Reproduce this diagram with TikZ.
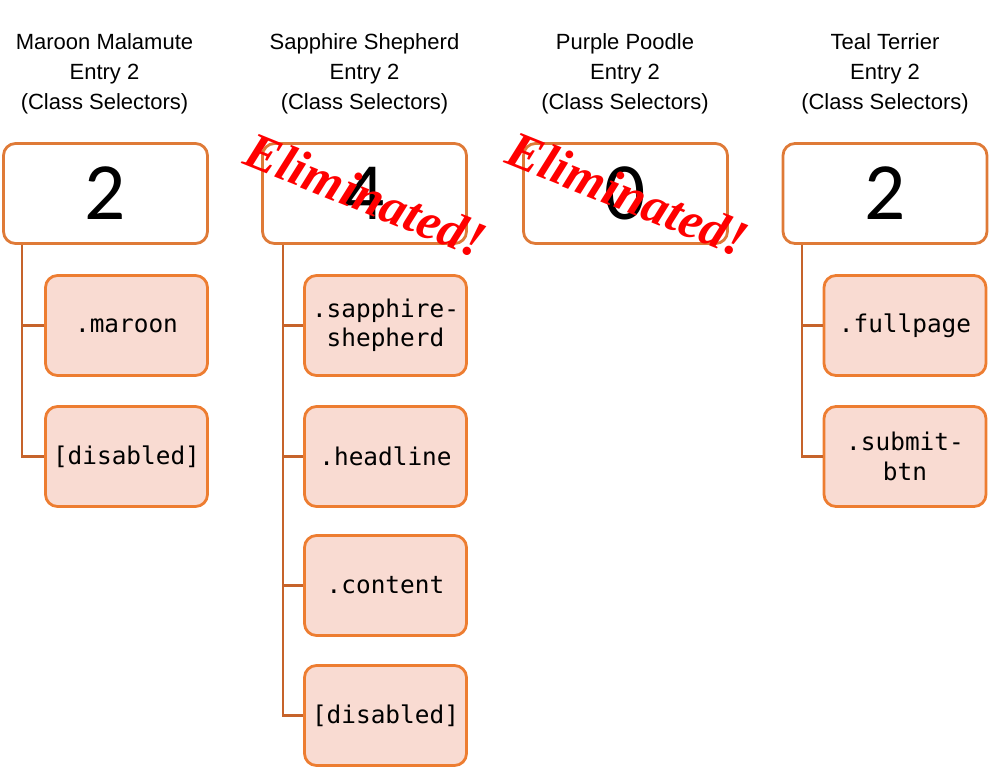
\documentclass[tikz,border=0pt]{standalone}
\usepackage{fontspec}
\setmainfont{Liberation Sans}
\setmonofont{DejaVu Sans Mono}
\newfontfamily\numfont{Carlito}
\newfontfamily\elimfont{Liberation Serif}
\definecolor{scoreline}{HTML}{DF7A37}
\definecolor{leafline}{HTML}{ED7D31}
\definecolor{leaffill}{HTML}{F9DBD2}
\definecolor{linkline}{HTML}{C6632A}

\begin{document}
\begin{tikzpicture}[x=0.75pt, y=-0.75pt,
    title/.style={align=center, font=\fontsize{16.5}{22.5}\selectfont},
    score/.style={draw=scoreline, line width=2.1pt, fill=white, rounded corners=9pt,
        minimum width=153pt, minimum height=75pt, inner sep=0pt,
        font=\numfont\fontsize{61}{61}\selectfont},
    leaf/.style={draw=leafline, line width=2.1pt, fill=leaffill, rounded corners=9pt,
        minimum width=121.5pt, minimum height=75pt, inner sep=0pt, align=center,
        font=\ttfamily\fontsize{18.3}{22}\selectfont},
    link/.style={draw=linkline, line width=2.1pt},
    elim/.style={text=red, rotate=-22, inner sep=0pt,
        font=\elimfont\bfseries\itshape\fontsize{38.5}{38.5}\selectfont}]
    \useasboundingbox (0, 0) rectangle (990, 776);

    % titles
    \node[title] (mtitle) at (104.5, 73.5) {Maroon Malamute\\Entry 2\\(Class Selectors)};
    \node[title] (stitle) at (364.5, 73.5) {Sapphire Shepherd\\Entry 2\\(Class Selectors)};
    \node[title] (ptitle) at (625, 73.5) {Purple Poodle\\Entry 2\\(Class Selectors)};
    \node[title] (ttitle) at (885, 73.5) {Teal Terrier\\Entry 2\\(Class Selectors)};

    % maroon malamute
    \coordinate (mtrunk) at (22, 245);
    \node[leaf] (m1) at (126.5, 325.5) {.maroon};
    \node[leaf] (m2) at (126.5, 456.5) {[disabled]};
    \draw[link] (mtrunk) |- (m2.west);
    \draw[link] (m1.west) -- (m1.west -| mtrunk);
    \node[score] (m) at (105.5, 193.5) {2};

    % sapphire shepherd
    \coordinate (strunk) at (283, 245);
    \node[leaf] (s1) at (385.5, 325.5) {.sapphire-\\shepherd};
    \node[leaf] (s2) at (385.5, 456.5) {.headline};
    \node[leaf] (s3) at (385.5, 585.5) {.content};
    \node[leaf] (s4) at (385.5, 715.5) {[disabled]};
    \draw[link] (strunk) |- (s4.west);
    \draw[link] (s1.west) -- (s1.west -| strunk);
    \draw[link] (s2.west) -- (s2.west -| strunk);
    \draw[link] (s3.west) -- (s3.west -| strunk);
    \node[score] (s) at (364.5, 193.5) {4};

    % purple poodle
    \node[score] (p) at (625.5, 193.5) {0};

    % teal terrier
    \coordinate (ttrunk) at (802, 245);
    \node[leaf] (t1) at (905, 325.5) {.fullpage};
    \node[leaf] (t2) at (905, 456.5) {.submit-\\btn};
    \draw[link] (ttrunk) |- (t2.west);
    \draw[link] (t1.west) -- (t1.west -| ttrunk);
    \node[score] (t) at (885, 193.5) {2};

    % eliminated
    \node[elim] (selim) at (366, 195) {Eliminated!};
    \node[elim] (pelim) at (628, 194) {Eliminated!};
\end{tikzpicture}
\end{document}
